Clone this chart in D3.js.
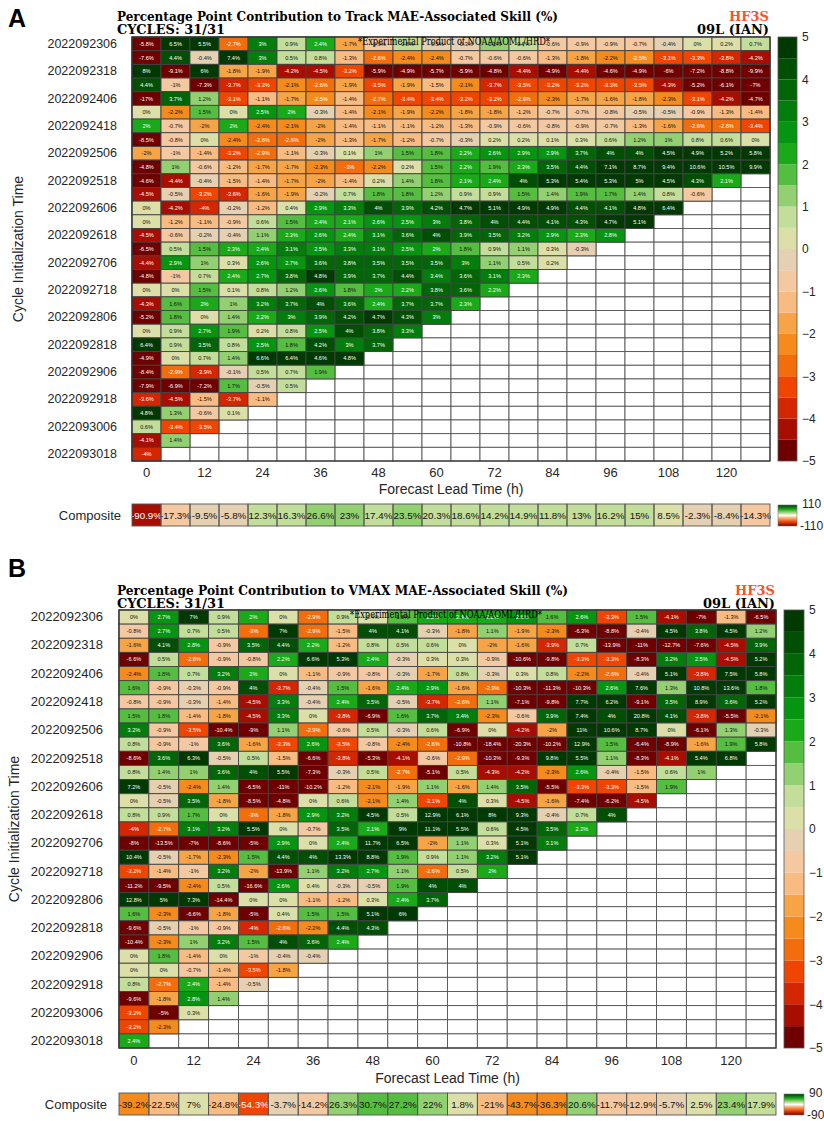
<!DOCTYPE html>
<html>
<head>
<meta charset="utf-8">
<script src="https://cdn.jsdelivr.net/npm/d3@7"></script>
<style>
body{margin:0;background:#fff}
svg text{font-family:"Liberation Sans",Arial,sans-serif}
svg .serif{font-family:"DejaVu Serif",serif}
</style>
</head>
<body>
<div id="chart"></div>
<script>
var W = 824, H = 1121

var cycles = ["2022092306","2022092312","2022092318","2022092400","2022092406","2022092412","2022092418",
  "2022092500","2022092506","2022092512","2022092518","2022092600","2022092606","2022092612","2022092618",
  "2022092700","2022092706","2022092712","2022092718","2022092800","2022092806","2022092812","2022092818",
  "2022092900","2022092906","2022092912","2022092918","2022093000","2022093006","2022093012","2022093018"]
var leads = [0,6,12,18,24,30,36,42,48,54,60,66,72,78,84,90,96,102,108,114,120,126]
var xTicks = [0,12,24,36,48,60,72,84,96,108,120]
var cbTicks = [5,4,3,2,1,0,-1,-2,-3,-4,-5]

// 20 colour bands from -5 to 5
var heatColors = ["#6e0000","#a80e00","#d42600","#f04500","#f26d0c","#f58a1d","#f7a447","#f8bb82","#f4c9a2","#e5d0b2",
  "#dcdfa8","#c3dd9a","#93d072","#55bd40","#19a919","#069511","#037e0c","#026608","#014f05","#003a02"]

// Track MAE-associated skill (%), one row per cycle, one value per lead time
var trackSkill = [
  [-5.8,6.5,5.5,-2.7,3,0.9,2.4,-1.7,-0.9,0.8,-0.5,-0.3,1.3,0.7,-0.6,-0.9,-0.9,-0.7,-0.4,0,0.2,0.7],
  [-7.6,4.4,-0.4,7.4,3,0.5,0.8,-1.3,-2.6,-2.4,-2.4,-0.7,-0.6,-0.6,-1.3,-1.8,-2.2,-2.5,-3.1,-3.3,-3.8,-4.2],
  [8,-9.1,6,-1.8,-1.9,-4.2,-4.5,-3.2,-5.9,-4.9,-5.7,-5.9,-4.8,-4.4,-4.9,-4.4,-4.6,-4.9,-6,-7.2,-8.8,-9.9],
  [4.4,-1,-7.3,-3.7,-3.3,-2.1,-2.6,-1.9,-3.5,-1.9,-1.5,-2.1,-3.7,-3.5,-3.2,-3.2,-3.3,-3.5,-4.3,-5.2,-6.1,-7],
  [-17,3.7,1.2,-3.1,-1.1,-1.7,-2.5,-1.4,-2.7,-3.4,-3.4,-3.2,-3.2,-2.9,-2.3,-1.7,-1.6,-1.8,-2.3,-3.1,-4.2,-4.7],
  [0,-2.2,1.5,0,2.5,2,-0.3,-1.4,-2.1,-1.9,-2.2,-1.8,-1.8,-1.2,-0.7,-0.7,-0.8,-0.5,-0.5,-0.9,-1.3,-1.4],
  [2,-0.7,-2,2,-2.4,-2.1,-2,-1.4,-1.1,-1.1,-1.2,-1.3,-0.9,-0.6,-0.8,-0.9,-0.7,-1.3,-1.6,-2.6,-2.8,-3.4],
  [-8.5,-0.8,0,-2.4,-2.8,-2.6,-2,-1.3,-1.7,-1.2,-0.7,-0.3,0.2,0.2,0.1,0.3,0.6,1.2,1,0.8,0.6,0],
  [-2,-1,-1.4,-3.2,-2.9,-1.1,-0.3,0.1,1,1.5,1.8,2.2,2.6,2.9,2.9,3.7,4,4,4.5,4.9,5.2,5.8],
  [-4.8,1,-0.6,-1.2,-1.7,-1.7,-2.3,-3,-2.2,0.2,1.5,2.2,1.9,2.3,3.5,4.4,7.1,8.7,9.4,10.6,10.5,9.9],
  [-4.6,-4.4,-0.4,-1.5,-1.4,-1.7,-2,-1.4,0.2,1.4,1.8,2.1,2.4,4,5.3,5.4,5.3,5,4.5,4.3,2.1],
  [-4.5,-0.5,-3.2,-3.6,-1.6,-1.9,-0.2,0.7,1.8,1.8,1.2,0.9,0.9,1.5,1.4,1.9,1.7,1.4,0.8,-0.6],
  [0,-4.2,-4,-0.2,-1.2,0.4,2.9,3.3,4,3.9,4.2,4.7,5.1,4.9,4.9,4.4,4.1,4.8,6.4],
  [0,-1.2,-1.1,-0.9,0.6,1.5,2.4,2.1,2.6,2.5,3,3.8,4,4.4,4.1,4.3,4.7,5.1],
  [-4.5,-0.6,-0.2,-0.4,1.1,2.3,2.6,2.4,3.1,3.6,4,3.9,3.5,3.2,2.9,2.3,2.8],
  [-6.5,0.5,1.5,2.3,2.4,3.1,2.5,3.3,3.1,2.5,2,1.8,0.9,1.1,0.3,-0.3],
  [-4.4,2.9,1,0.3,2.6,2.7,3.6,3.8,3.5,3.5,3.5,3,1.1,0.5,0.2],
  [-4.8,-1,0.7,2.4,2.7,3.8,4.8,3.9,3.7,4.4,3.4,3.6,3.1,2.3],
  [0,0,1.5,0.1,0.8,1.2,2.6,1.8,2,2.2,3.8,3.6,2.2],
  [-4.3,1.6,2,1,3.2,3.7,4,3.6,2.4,3.7,3.7,2.3],
  [-5.2,1.8,0,1.4,2.2,3,3.9,4.2,4.7,4.3,3],
  [0,0.9,2.7,1.9,0.2,0.8,2.5,4,3.8,3.3],
  [6.4,0.9,3.5,0.8,2.5,1.8,4.2,3,3.7],
  [-4.9,0,0.7,1.4,6.6,6.4,4.6,4.8],
  [-8.4,-2.9,-3.9,-0.1,0.5,0.7,1.9],
  [-7.9,-6.9,-7.2,1.7,-0.5,0.5],
  [-3.6,-4.5,-1.5,-3.7,-1.1],
  [4.8,1.3,-0.6,0.1],
  [0.6,-3.4,-3.5],
  [-4.1,1.4],
  [-4]
]
var trackComposite = [-90.9,-17.3,-9.5,-5.8,12.3,16.3,26.6,23,17.4,23.5,20.3,18.6,14.2,14.9,11.8,13,16.2,15,8.5,-2.3,-8.4,-14.3]

// VMAX MAE-associated skill (%)
var vmaxSkill = [
  [0,2.7,7,0.9,2,0,-2.9,0.9,0.4,1.5,2.2,2.4,2.2,2.6,1.6,2.6,-3.3,1.5,-4.1,-7,-1.3,-6.5],
  [-0.8,2.7,0.7,0.5,-3,7,-2.9,-1.5,4,4.1,-0.3,-1.8,1.1,-1.9,-2.3,-6.3,-8.8,-0.4,4.5,3.8,4.5,1.2],
  [-1.6,4.1,2.8,-0.9,3.5,4.4,2.2,-1.2,0.8,0.5,0.6,0,-2,-1.6,-3.9,0.7,-13.9,-11,-12.7,-7.6,-4.5,3.9],
  [-6.6,0.5,-2.8,-0.9,-0.8,2.2,6.6,5.3,2.4,-0.3,0.3,0.3,-0.9,-10.6,-9.8,-3.3,-3.3,-8.3,3.2,2.5,-4.5,5.2],
  [-2.4,1.8,0.7,3.2,2,0,-1.1,-0.9,-0.8,-0.3,-1.7,0.8,-0.3,0.3,0.8,-2.2,-2.6,-0.4,5.1,-3.8,7.5,5.8],
  [1.6,-0.9,-0.3,-0.9,4,-3.7,-0.4,1.5,-1.6,2.4,2.9,-1.6,-2.9,-10.3,-11.3,-10.3,2.6,7.6,1.3,10.8,13.6,1.8],
  [-0.8,-0.9,-0.3,-1.4,-4.5,3.3,-0.4,2.4,3.5,-0.5,-3.7,-2.6,1.1,-7.1,-9.8,7.7,6.2,-9.1,3.5,8.9,3.6,5.2],
  [1.5,1.8,-1.4,-1.8,-4.5,3.3,0,-3.8,-6.9,1.6,3.7,3.4,-2.3,-0.6,3.9,7.4,4,20.8,4.1,-3.8,-5.5,-2.1],
  [3.2,-0.9,-3.5,-10.4,-9,1.1,-2.9,-0.6,0.5,-0.3,0.6,-6.9,0,-4.2,-2,11,10.6,8.7,0,-6.1,1.3,-0.3],
  [0.8,-0.9,-1,3.6,-1.6,-3.3,2.6,-3.5,-0.8,-2.4,-2.6,-10.8,-18.4,-20.3,-10.2,12.9,1.5,-6.4,-8.9,-1.6,1.9,5.8],
  [-8.6,3.6,6.3,-0.5,0.5,-1.5,-6.6,-3.8,-5.3,-4.1,-0.6,-2.9,-10.3,-9.3,9.8,5.5,1.1,-8.3,-4.1,5.4,6.8],
  [0.8,1.4,1,3.6,4,5.5,-7.3,-0.3,0.5,-2.7,-5.1,0.5,-4.3,-4.2,-2.3,2.6,-0.4,-1.5,0.6,1],
  [7.2,-0.5,-2.4,1.4,-6.5,-11,-10.2,-1.2,-2.1,-1.9,1.1,-1.6,1.4,3.5,-5.5,-3.3,-3.3,-1.5,1.9],
  [0,-0.5,3.5,-1.8,-8.5,-4.8,0,0.6,-2.1,1.4,-3.1,4,0.3,-4.5,-1.6,-7.4,-6.2,-4.5],
  [0.8,0.9,1.7,0,-3,-1.8,2.9,3.2,4.5,0.5,12.9,6.1,8,9.3,-0.4,0.7,4],
  [-4,-2.7,3.1,3.2,5.5,0,-0.7,3.5,2.1,9,11.1,5.5,0.6,4.5,3.5,2.2],
  [-8,-13.5,-7,-8.6,-5,2.9,0,2.4,11.7,6.5,-2,1.1,0.3,5.1,3.1],
  [10.4,-0.5,-1.7,-2.3,1.5,4.4,4,13.3,8.8,1.9,0.9,1.1,3.2,5.1],
  [-3.2,-1.4,-1,3.2,-2,-13.9,1.1,3.2,2.7,1.1,-2.6,0.5,2],
  [-11.2,-9.5,-2.4,0.5,-16.6,2.6,0.4,-0.3,-0.5,1.9,4,4],
  [12.8,5,7.3,-14.4,0,0,-1.1,-1.2,0.3,2.4,3.7],
  [1.6,-2.3,-6.6,-1.8,-5,0.4,1.5,1.5,5.1,6],
  [-9.6,-0.5,-1,-0.9,-4,-2.6,-2.2,4.4,4.3],
  [-10.4,-2.3,1,3.2,1.5,4,3.6,2.4],
  [0,1.8,-1.4,0,-1,-0.4,-0.4],
  [0,0,-0.7,-1.4,-3.5,-1.8],
  [0.8,-2.7,2.4,-1.4,-0.5],
  [-9.6,-1.8,2.8,1.4],
  [-3.2,-5,0.3],
  [-3.2,-2.3],
  [2.4]
]
var vmaxComposite = [-39.2,-22.5,7,-24.8,-54.3,-3.7,-14.2,26.3,30.7,27.2,22,1.8,-21,-43.7,-36.3,20.6,-11.7,-12.9,-5.7,2.5,23.4,17.9]

var svg = d3.select("#chart").append("svg").attr("width",W).attr("height",H)

var heat = d3.scaleQuantize().domain([-5,5]).range(heatColors)

// gradient for the small composite colour bar
var grad = svg.append("defs").append("linearGradient").attr("id","compGrad")
  .attr("x1",0).attr("y1",0).attr("x2",0).attr("y2",1)
grad.selectAll("stop")
  .data([[0,"#003a02"],[0.2,"#19a919"],[0.4,"#c3dd9a"],[0.5,"#ffffff"],[0.6,"#f8bb82"],[0.8,"#f04500"],[1,"#6e0000"]])
  .enter().append("stop").attr("offset",function(d){return d[0]}).attr("stop-color",function(d){return d[1]})

function txtColor(v){ return (v >= 2 || v <= -2.5) ? "#fff" : "#111" }

function drawPanel(p, skill, composite){
  var g = svg.append("g")
  var x = d3.scaleBand().domain(leads).range([p.left,p.right])
  var y = d3.scaleBand().domain(cycles).range([p.top,p.bottom])
  var cs = d3.scaleLinear().domain([-p.compMax,p.compMax]).range([-5,5])

  var grid = []
  cycles.forEach(function(c){ leads.forEach(function(l){ grid.push({c:c,l:l}) }) })
  var cells = []
  skill.forEach(function(row,i){
    row.forEach(function(v,j){ cells.push({c:cycles[i],l:leads[j],v:v}) })
  })

  // empty grid
  g.selectAll(".bg").data(grid).enter().append("rect")
    .attr("x",function(d){return x(d.l)}).attr("y",function(d){return y(d.c)})
    .attr("width",x.bandwidth()).attr("height",y.bandwidth())
    .attr("fill","#fff").attr("stroke","#555").attr("stroke-width",0.9)

  g.selectAll(".cell").data(cells).enter().append("rect")
    .attr("x",function(d){return x(d.l)}).attr("y",function(d){return y(d.c)})
    .attr("width",x.bandwidth()).attr("height",y.bandwidth())
    .attr("fill",function(d){return heat(d.v)}).attr("stroke","#444").attr("stroke-width",0.9)

  g.selectAll(".lab").data(cells).enter().append("text")
    .attr("x",function(d){return x(d.l)+x.bandwidth()/2})
    .attr("y",function(d){return y(d.c)+y.bandwidth()/2+2})
    .attr("text-anchor","middle").attr("font-size",5.6)
    .attr("fill",function(d){return txtColor(d.v)})
    .text(function(d){return d.v+"%"})

  g.append("rect").attr("x",p.left).attr("y",p.top).attr("width",p.right-p.left).attr("height",p.bottom-p.top)
    .attr("fill","none").attr("stroke","#333").attr("stroke-width",1.2)

  // titles
  g.append("text").attr("x",8).attr("y",p.letterY).attr("font-size",25).attr("font-weight","bold").text(p.letter)
  g.append("text").attr("class","serif").attr("x",117).attr("y",p.titleY).attr("font-size",12.5).attr("font-weight","bold")
    .attr("textLength",p.titleLen).attr("lengthAdjust","spacingAndGlyphs").text(p.title)
  g.append("text").attr("class","serif").attr("x",117).attr("y",p.titleY+12.5).attr("font-size",12.5).attr("font-weight","bold")
    .attr("textLength",p.cycLen).attr("lengthAdjust","spacingAndGlyphs").text("CYCLES: 31/31")
  g.append("text").attr("class","serif").attr("x",p.right-1).attr("y",p.titleY).attr("font-size",13).attr("font-weight","bold")
    .attr("text-anchor","end").attr("fill","#f2552c").text("HF3S")
  g.append("text").attr("class","serif").attr("x",p.right-1).attr("y",p.titleY+12.5).attr("font-size",13).attr("font-weight","bold")
    .attr("text-anchor","end").text("09L (IAN)")
  g.append("text").attr("class","serif").attr("x",p.expX).attr("y",p.top+7.5).attr("font-size",11.5)
    .attr("textLength",192).attr("lengthAdjust","spacingAndGlyphs").attr("fill","#000")
    .text("*Experimental Product of NOAA/AOML/HRD*")

  // axes
  var yAxis = g.append("g").attr("transform","translate("+(p.left-2)+",0)")
    .call(d3.axisLeft(y).tickValues(cycles.filter(function(d,i){return i%2==0})).tickSize(0).tickPadding(p.left-2-p.labelRight))
  yAxis.select(".domain").remove()
  yAxis.selectAll("text").attr("font-size",p.labelFont).attr("fill","#262626").attr("font-family","Liberation Sans, Arial, sans-serif")

  var xAxis = g.append("g").attr("transform","translate(0,"+p.bottom+")")
    .call(d3.axisBottom(x).tickValues(xTicks).tickSize(0).tickPadding(p.tickPad))
  xAxis.select(".domain").remove()
  xAxis.selectAll("text").attr("font-size",13).attr("fill","#262626").attr("font-family","Liberation Sans, Arial, sans-serif")

  g.append("text").attr("x",(p.left+p.right)/2).attr("y",p.xTitleY).attr("text-anchor","middle")
    .attr("font-size",14).attr("fill","#262626").text("Forecast Lead Time (h)")
  g.append("text").attr("transform","translate("+p.yTitleX+","+((p.top+p.bottom)/2)+") rotate(-90)")
    .attr("text-anchor","middle").attr("font-size",14).attr("fill","#262626").text("Cycle Initialization Time")

  // composite row
  g.selectAll(".comp").data(composite).enter().append("rect")
    .attr("x",function(d,i){return x(leads[i])}).attr("y",p.compTop)
    .attr("width",x.bandwidth()).attr("height",p.compBottom-p.compTop)
    .attr("fill",function(d){return heat(cs(d))})
  g.selectAll(".compLab").data(composite).enter().append("text")
    .attr("x",function(d,i){return x(leads[i])+x.bandwidth()/2})
    .attr("y",(p.compTop+p.compBottom)/2+3.5)
    .attr("text-anchor","middle").attr("font-size",9.8)
    .attr("fill",function(d){return Math.abs(cs(d))>=2.5 ? "#fff" : "#111"})
    .text(function(d){return d+"%"})
  g.selectAll(".compBox").data(composite).enter().append("rect")
    .attr("x",function(d,i){return x(leads[i])}).attr("y",p.compTop)
    .attr("width",x.bandwidth()).attr("height",p.compBottom-p.compTop)
    .attr("fill","none").attr("stroke","#555").attr("stroke-width",0.9)
  g.append("text").attr("x",p.labelRight+4).attr("y",(p.compTop+p.compBottom)/2+4.5).attr("text-anchor","end")
    .attr("font-size",13).attr("fill","#262626").text("Composite")

  // colour bar
  var cb = d3.scaleLinear().domain([-5,5]).range([p.bottom,p.top])
  var bands = heatColors.map(function(c,i){return {c:c,lo:-5+i*0.5}})
  g.selectAll(".cb").data(bands).enter().append("rect")
    .attr("x",p.cbX).attr("width",p.cbW)
    .attr("y",function(d){return cb(d.lo+0.5)}).attr("height",function(d){return cb(d.lo)-cb(d.lo+0.5)})
    .attr("fill",function(d){return d.c})
  g.append("rect").attr("x",p.cbX).attr("y",p.top).attr("width",p.cbW).attr("height",p.bottom-p.top)
    .attr("fill","none").attr("stroke","#555").attr("stroke-width",0.8)
  var cbAxis = g.append("g").attr("transform","translate("+(p.cbX+p.cbW)+",0)")
    .call(d3.axisRight(cb).tickValues(cbTicks).tickSize(0).tickPadding(5).tickFormat(d3.format("d")))
  cbAxis.select(".domain").remove()
  cbAxis.selectAll("text").attr("font-size",12).attr("fill","#262626").attr("font-family","Liberation Sans, Arial, sans-serif")

  // composite colour bar
  g.append("rect").attr("x",p.cbX).attr("y",p.compTop+1).attr("width",p.cbW).attr("height",p.compBottom-p.compTop-1)
    .attr("fill","url(#compGrad)").attr("stroke","#777").attr("stroke-width",0.6)
  g.append("text").attr("x",p.cbX+p.cbW+5).attr("y",p.compTop+4).attr("font-size",12).attr("fill","#262626").text(p.compMax)
  g.append("text").attr("x",p.cbX+p.cbW+3).attr("y",p.compBottom+4).attr("font-size",12).attr("fill","#262626").text(-p.compMax)
}

drawPanel({letter:"A", letterY:27, title:"Percentage Point Contribution to Track MAE-Associated Skill (%)",
  titleY:21, titleLen:441, cycLen:108, left:132, right:770, top:37, bottom:461, compTop:504, compBottom:526,
  labelRight:117, labelFont:12.5, tickPad:7, xTitleY:494, yTitleX:23, expX:358, cbX:778, cbW:19, compMax:110},
  trackSkill, trackComposite)

drawPanel({letter:"B", letterY:577, title:"Percentage Point Contribution to VMAX MAE-Associated Skill (%)",
  titleY:595, titleLen:451, cycLen:108, left:119, right:776, top:610, bottom:1048, compTop:1093, compBottom:1115,
  labelRight:103, labelFont:13, tickPad:8, xTitleY:1083, yTitleX:19, expX:350, cbX:784, cbW:20, compMax:90},
  vmaxSkill, vmaxComposite)
</script>
</body>
</html>
